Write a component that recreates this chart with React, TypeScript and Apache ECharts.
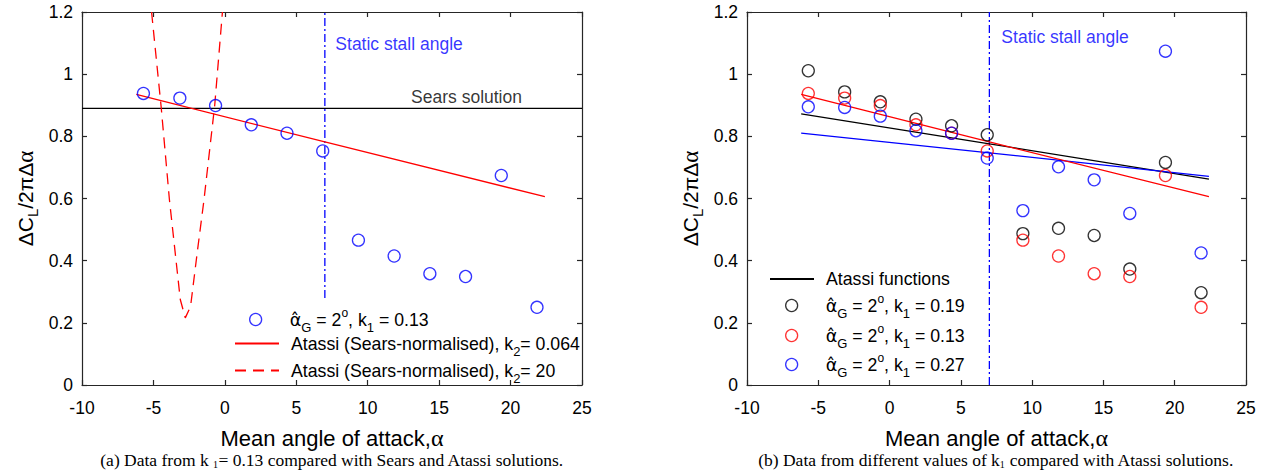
import React, { useEffect, useRef } from 'react';
import * as echarts from 'echarts';

// ---- data ----
const xTicks = [-10, -5, 0, 5, 10, 15, 20, 25];
const yTicks = [0, 0.2, 0.4, 0.6, 0.8, 1.0, 1.2];

const meanAngle = [-5.7, -3.15, -0.65, 1.85, 4.35, 6.85, 9.35, 11.85, 14.35, 16.85, 19.35, 21.85];
const dataK013 = [0.938, 0.923, 0.899, 0.837, 0.81, 0.753, 0.466, 0.415, 0.358, 0.349, 0.674, 0.25];
const dataK019 = [1.011, 0.943, 0.911, 0.855, 0.834, 0.805, 0.487, 0.504, 0.481, 0.373, 0.716, 0.297];
const dataK027 = [0.895, 0.893, 0.865, 0.818, 0.81, 0.73, 0.561, 0.702, 0.66, 0.552, 1.074, 0.425];

const atassiAngle = [-6.2, 7, 22.4];
const atassiK013 = [0.935, 0.782, 0.606];
const atassiK019 = [0.872, 0.776, 0.662];
const atassiK027 = [0.81, 0.747, 0.671];

const searsAngle = [-10, 25];
const searsValue = [0.89, 0.89];

const k20Angle = [-5.13, -4.46, -3.88, -3.12, -2.77, -2.4, -1.91, -1.46, -0.71, -0.17];
const k20Value = [1.2, 0.895, 0.596, 0.275, 0.216, 0.253, 0.435, 0.596, 0.9, 1.2];

const stallAngle = 7;
const stallRangeLeft = [0.28, 1.2];
const stallRangeRight = [0, 1.2];

// ---- styling ----
const FONT = "'Liberation Sans', Arial, Helvetica, sans-serif";
const SERIF = "'Liberation Serif', 'Times New Roman', serif";
const AX = '#262626';
const BLUE = '#0000ff';
const RED = '#ff0000';
const BLACK = '#000000';
const FS = 17.5;
const LFS = 17.7;

const zip = (xs: number[], ys: number[]) => xs.map((x, i) => [x, ys[i]]);

const legendRich = {
  t0: { fontSize: LFS, fontFamily: FONT, color: '#000', padding: [0, 0, 0, 7], lineHeight: 18, verticalAlign: 'middle' },
  a0: { fontSize: LFS, fontFamily: "'DejaVu Sans', " + FONT, color: '#000', padding: [0, 0, 0, 7], lineHeight: 18, verticalAlign: 'middle' },
  t: { fontSize: LFS, fontFamily: FONT, color: '#000', lineHeight: 18, verticalAlign: 'middle' },
  s: { fontSize: 13, fontFamily: FONT, color: '#000', padding: [16, 0, 0, 0], lineHeight: 18, verticalAlign: 'middle' },
  u: { fontSize: 12, fontFamily: FONT, color: '#000', padding: [0, 0, 14, 0], lineHeight: 18, verticalAlign: 'middle' },
};

const kLabel = (k: string) => `{a0|α̂}{s|G}{t| = 2}{u|o}{t|, k}{s|1}{t| = ${k}}`;

function mkLegend(name: string, label: string, left: number, top: number, isLine: boolean) {
  const lg: any = {
    data: [name],
    left,
    top,
    orient: 'vertical',
    itemWidth: 44,
    itemHeight: 12,
    padding: 0,
    selectedMode: false,
    formatter: () => label,
    textStyle: { fontSize: LFS, fontFamily: FONT, color: '#000', rich: legendRich },
  };
  lg.itemStyle = isLine ? { opacity: 0 } : { borderWidth: 1.3 };
  return lg;
}

function xAx(top: boolean) {
  return {
    type: 'value',
    min: xTicks[0],
    max: xTicks[xTicks.length - 1],
    interval: xTicks[1] - xTicks[0],
    position: top ? 'top' : 'bottom',
    axisLine: { show: true, onZero: false, lineStyle: { color: AX, width: 1.2 } },
    axisTick: { show: true, inside: true, length: 5, lineStyle: { color: AX, width: 1.2 } },
    axisLabel: { show: !top, margin: 14, fontSize: FS, fontFamily: FONT, color: '#000' },
    splitLine: { show: false },
    name: top ? '' : '{t|Mean angle of attack,}{g|α}',
    nameLocation: 'middle',
    nameGap: 41,
    nameTextStyle: {
      rich: {
        t: { fontSize: 22, fontFamily: FONT, color: '#000' },
        g: { fontSize: 24, fontFamily: SERIF, color: '#000' },
      },
    },
  };
}

function yAx(right: boolean) {
  return {
    type: 'value',
    min: yTicks[0],
    max: yTicks[yTicks.length - 1],
    interval: 0.2,
    position: right ? 'right' : 'left',
    axisLine: { show: true, onZero: false, lineStyle: { color: AX, width: 1.2 } },
    axisTick: { show: true, inside: true, length: 5, lineStyle: { color: AX, width: 1.2 } },
    axisLabel: {
      show: !right,
      margin: 9,
      fontSize: FS,
      fontFamily: FONT,
      color: '#000',
      formatter: (v: number) => String(+v.toFixed(1)),
    },
    splitLine: { show: false },
    name: right ? '' : '{t|ΔC}{s|L}{t|/2πΔ}{g|α}',
    nameLocation: 'middle',
    nameRotate: 90,
    nameGap: 46,
    nameTextStyle: {
      rich: {
        t: { fontSize: 21, fontFamily: FONT, color: '#000', lineHeight: 22, verticalAlign: 'middle' },
        s: { fontSize: 15, fontFamily: FONT, color: '#000', padding: [14, 0, 0, 0], lineHeight: 22, verticalAlign: 'middle' },
        g: { fontSize: 23, fontFamily: SERIF, color: '#000', lineHeight: 22, verticalAlign: 'middle' },
      },
    },
  };
}

function lineSeries(name: string, xi: number, data: number[][], color: string, type: any = 'solid') {
  return {
    name,
    type: 'line',
    xAxisIndex: xi,
    yAxisIndex: xi,
    data,
    symbol: 'none',
    showSymbol: false,
    silent: true,
    color,
    lineStyle: { color, width: 1.3, type },
    z: 3,
  };
}

function scatterSeries(name: string, xi: number, data: number[][], color: string) {
  return {
    name,
    type: 'scatter',
    xAxisIndex: xi,
    yAxisIndex: xi,
    data,
    symbol: 'circle',
    symbolSize: 12,
    silent: true,
    color,
    itemStyle: { color: 'rgba(0,0,0,0)', borderColor: color, borderWidth: 1.3 },
    z: 4,
  };
}

function textMark(xi: number, pos: number[], text: string, color: string, distance: number) {
  return {
    type: 'scatter',
    xAxisIndex: xi,
    yAxisIndex: xi,
    data: [pos],
    symbolSize: 1,
    silent: true,
    itemStyle: { color: 'rgba(0,0,0,0)' },
    label: {
      show: true,
      position: 'right',
      distance,
      formatter: text,
      fontSize: FS,
      fontFamily: FONT,
      color,
    },
    z: 5,
  };
}

const N_SCAT_L = 'αG=2, k1=0.13 (a)';
const N_A064 = 'Atassi (Sears-normalised), k2= 0.064';
const N_A20 = 'Atassi (Sears-normalised), k2= 20';
const N_AF = 'Atassi functions';
const N_S019 = 'αG=2, k1=0.19';
const N_S013 = 'αG=2, k1=0.13';
const N_S027 = 'αG=2, k1=0.27';

const captionRich = {
  m: { fontSize: 17.5, fontFamily: SERIF, color: '#000', lineHeight: 20, verticalAlign: 'middle' },
  c: { fontSize: 10, fontFamily: SERIF, color: '#000', padding: [8, 0, 0, 0], lineHeight: 20, verticalAlign: 'middle' },
};

export default function App() {
  const ref = useRef<HTMLDivElement>(null);
  useEffect(() => {
    if (!ref.current) return;
    const chart = echarts.init(ref.current, null, { renderer: 'svg' });
    const option: any = {
      animation: false,
      backgroundColor: '#ffffff',
      grid: [
        { left: 82, top: 12, width: 500, height: 373, show: false, outerBoundsMode: 'none' },
        { left: 747, top: 12, width: 499, height: 373, show: false, outerBoundsMode: 'none' },
      ],
      xAxis: [xAx(false), xAx(true), xAx(false), xAx(true)].map((a, i) => ({
        ...a,
        gridIndex: i < 2 ? 0 : 1,
      })),
      yAxis: [yAx(false), yAx(true), yAx(false), yAx(true)].map((a, i) => ({
        ...a,
        gridIndex: i < 2 ? 0 : 1,
      })),
      legend: [
        mkLegend(N_SCAT_L, kLabel('0.13'), 249, 305, false),
        mkLegend(N_A064, '{t0|Atassi (Sears-normalised), k}{s|2}{t|= 0.064}', 234, 329, true),
        mkLegend(N_A20, '{t0|Atassi (Sears-normalised), k}{s|2}{t|= 20}', 234, 356, true),
        mkLegend(N_AF, '{t0|Atassi functions}', 769, 270, true),
        mkLegend(N_S019, kLabel('0.19'), 785, 291, false),
        mkLegend(N_S013, kLabel('0.13'), 785, 321, false),
        mkLegend(N_S027, kLabel('0.27'), 785, 350, false),
      ],
      series: [
        // left panel
        lineSeries('Sears solution', 0, zip(searsAngle, searsValue), BLACK),
        lineSeries('Static stall (a)', 0, zip([stallAngle, stallAngle], stallRangeLeft), BLUE, [8, 3, 2, 3]),
        lineSeries(N_A064, 0, zip(atassiAngle, atassiK013), RED),
        lineSeries(N_A20, 0, zip(k20Angle, k20Value), RED, [11, 7]),
        scatterSeries(N_SCAT_L, 0, zip(meanAngle, dataK013), BLUE),
        textMark(0, [stallAngle, 1.097], 'Static stall angle', BLUE, 10),
        textMark(0, [13.0, 0.927], 'Sears solution', BLACK, 0),
        // right panel
        lineSeries('Static stall (b)', 2, zip([stallAngle, stallAngle], stallRangeRight), BLUE, [8, 3, 2, 3]),
        lineSeries(N_AF, 2, zip(atassiAngle, atassiK019), BLACK),
        lineSeries('Atassi k1=0.27', 2, zip(atassiAngle, atassiK027), BLUE),
        lineSeries('Atassi k1=0.13', 2, zip(atassiAngle, atassiK013), RED),
        scatterSeries(N_S019, 2, zip(meanAngle, dataK019), BLACK),
        scatterSeries(N_S013, 2, zip(meanAngle, dataK013), RED),
        scatterSeries(N_S027, 2, zip(meanAngle, dataK027), BLUE),
        textMark(2, [stallAngle, 1.12], 'Static stall angle', BLUE, 11.5),
      ],
      graphic: [
        {
          type: 'text',
          x: 332,
          y: 460,
          silent: true,
          style: {
            text: '{m|(a) Data from k }{c|1}{m|= 0.13 compared with Sears and Atassi solutions.}',
            align: 'center',
            verticalAlign: 'middle',
            rich: captionRich,
          },
        },
        {
          type: 'text',
          x: 996,
          y: 460,
          silent: true,
          style: {
            text: '{m|(b) Data from different values of k}{c|1}{m| compared with Atassi solutions.}',
            align: 'center',
            verticalAlign: 'middle',
            rich: captionRich,
          },
        },
      ],
    };
    chart.setOption(option);
    return () => chart.dispose();
  }, []);
  return (
    <div
      ref={ref}
      style={{ position: 'absolute', left: 0, top: 0, width: 1268, height: 476, background: '#fff' }}
    />
  );
}
